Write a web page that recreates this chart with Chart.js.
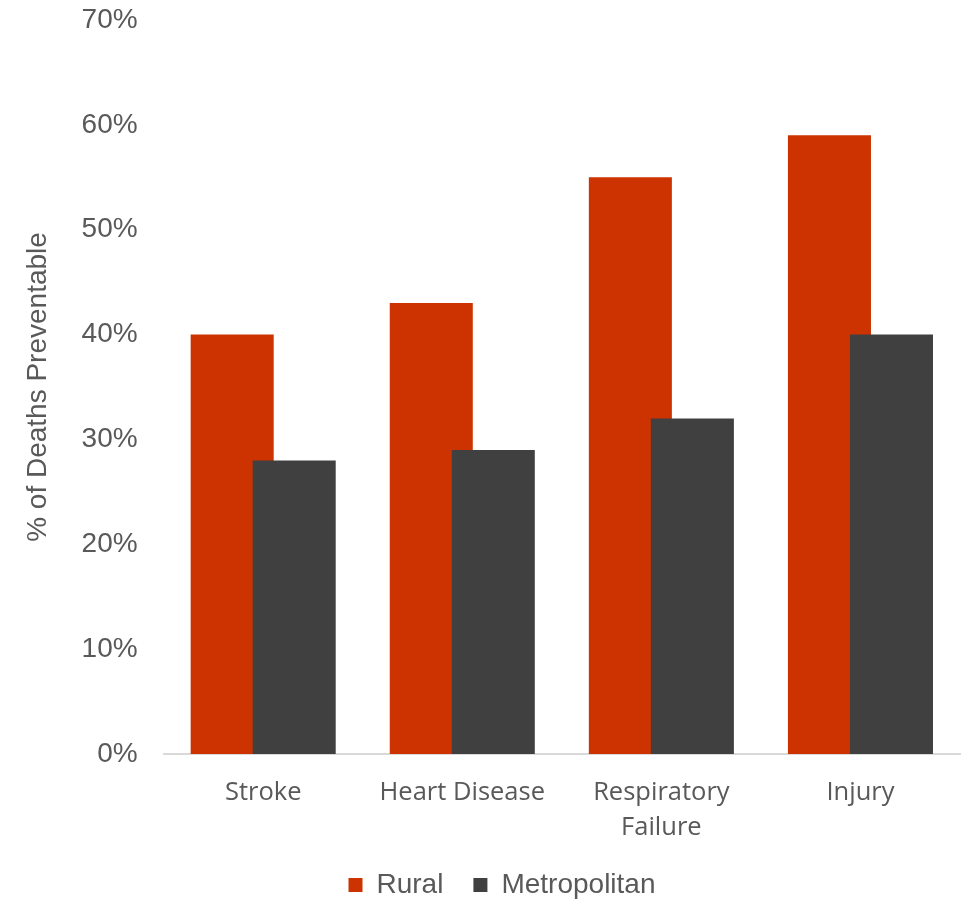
<!DOCTYPE html>
<html>
<head>
<meta charset="utf-8">
<script src="https://cdn.jsdelivr.net/npm/chart.js@4"></script>
<style>
  html, body { margin: 0; padding: 0; background: #fff; }
  #wrap { width: 966px; height: 901px; }
</style>
</head>
<body>
<div id="wrap"><canvas id="canvas"></canvas></div>
<script>
const categories = ['Stroke', 'Heart Disease', ['Respiratory', 'Failure'], 'Injury'];
const rural = [40, 43, 55, 59];
const metropolitan = [28, 29, 32, 40];
const yTicks = [0, 10, 20, 30, 40, 50, 60, 70];

// draw the datasets in reverse so Metropolitan sits over Rural, like the original
const drawOrder = {
  id: 'drawOrder',
  beforeDatasetsDraw(chart) {
    chart.getSortedVisibleDatasetMetas().forEach(meta => meta.controller.draw());
    return false;
  }
};

// the original legend sits a bit right of the page centre
const legendShift = {
  id: 'legendShift',
  afterLayout(chart) {
    chart.legend.left += 13;
    chart.legend.right += 13;
  }
};

const textColor = '#595959';

new Chart(document.getElementById('canvas').getContext('2d'), {
  type: 'bar',
  data: {
    labels: categories,
    datasets: [
      { label: 'Rural', data: rural, backgroundColor: '#CC3300' },
      { label: 'Metropolitan', data: metropolitan, backgroundColor: '#404040' }
    ]
  },
  options: {
    responsive: true,
    maintainAspectRatio: false,
    devicePixelRatio: 1,
    animation: false,
    categoryPercentage: 0.623,
    barPercentage: 1.339,
    layout: { padding: { left: 18, right: 6, top: 0, bottom: 0 } },
    scales: {
      x: {
        grid: { display: false, drawTicks: false },
        border: { display: true, color: '#d9d9d9', width: 2 },
        afterFit(axis) { axis.height = 87; },
        ticks: {
          color: textColor,
          font: { family: 'Open Sans', size: 25.5, lineHeight: 1.37 },
          padding: 21,
          maxRotation: 0
        }
      },
      y: {
        min: 0,
        max: 70,
        afterBuildTicks(axis) {
          axis.ticks = yTicks.map(v => ({ value: v }));
        },
        afterFit(axis) { axis.paddingTop = 20; },
        grid: { display: false, drawTicks: false },
        border: { display: false },
        ticks: {
          color: textColor,
          font: { family: 'Liberation Sans', size: 28 },
          padding: 26,
          callback: v => v + '%'
        },
        title: {
          display: true,
          text: '% of Deaths Preventable',
          color: textColor,
          font: { family: 'Liberation Sans', size: 28 },
          padding: { top: 3, bottom: 1 }
        }
      }
    },
    plugins: {
      legend: {
        position: 'bottom',
        maxHeight: 60,
        labels: {
          color: textColor,
          font: { family: 'Liberation Sans', size: 28 },
          boxWidth: 14,
          boxHeight: 14,
          padding: 30
        }
      },
      tooltip: { enabled: false }
    }
  },
  plugins: [drawOrder, legendShift]
});
</script>
</body>
</html>
